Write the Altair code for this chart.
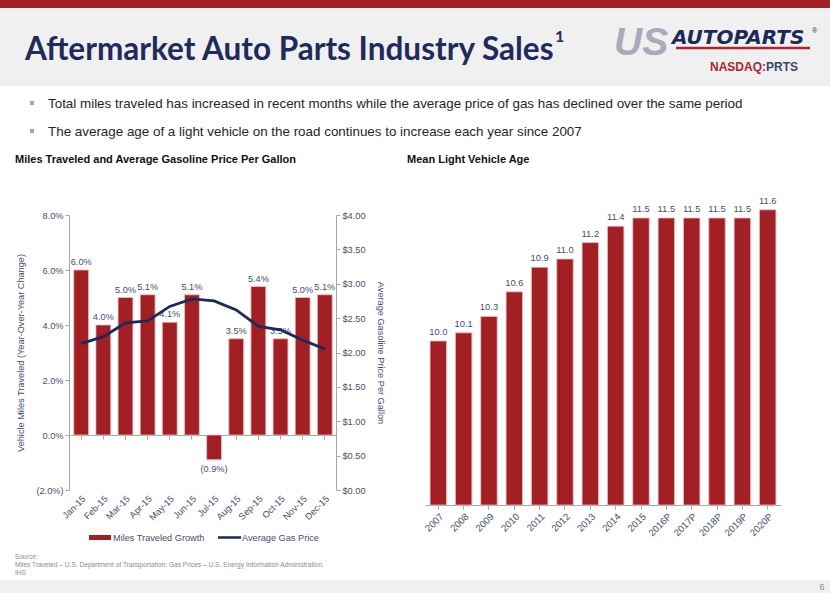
import altair as alt
import pandas as pd

# ---------------- data ----------------
months = ["Jan-15", "Feb-15", "Mar-15", "Apr-15", "May-15", "Jun-15",
          "Jul-15", "Aug-15", "Sep-15", "Oct-15", "Nov-15", "Dec-15"]
growth = [6.0, 4.0, 5.0, 5.1, 4.1, 5.1, -0.9, 3.5, 5.4, 3.5, 5.0, 5.1]
gas_price = [2.13, 2.23, 2.43, 2.46, 2.67, 2.78, 2.75, 2.62, 2.38, 2.33, 2.18, 2.05]

years = ["2007", "2008", "2009", "2010", "2011", "2012", "2013", "2014",
         "2015", "2016P", "2017P", "2018P", "2019P", "2020P"]
vehicle_age = [10.0, 10.1, 10.3, 10.6, 10.9, 11.0, 11.2, 11.4,
               11.5, 11.5, 11.5, 11.5, 11.5, 11.6]

growth_ticks = [-2, 0, 2, 4, 6, 8]
gas_ticks = [0, 0.5, 1, 1.5, 2, 2.5, 3, 3.5, 4]
age_ticks = [8, 9, 10, 11, 12]

title_text = "Aftermarket Auto Parts Industry Sales"
bullets = [
    "Total miles traveled has increased in recent months while the average price of gas has declined over the same period",
    "The average age of a light vehicle on the road continues to increase each year since 2007",
]
left_title = "Miles Traveled and Average Gasoline Price Per Gallon"
right_title = "Mean Light Vehicle Age"
source_lines = [
    "Source:",
    "Miles Traveled \u2013 U.S. Department of Transportation; Gas Prices \u2013 U.S. Energy Information Administration.",
    "IHS",
]

# ---------------- style ----------------
W, H = 830, 593
RED = "#A31F24"
NAVY = "#1B2A57"
SLATE = "#3F5070"
AXC = "#A6A6A6"
FONT = "Liberation Sans"
FS = 9.2

left_df = pd.DataFrame({"month": months, "growth": growth, "gas": gas_price})
left_df["label"] = [f"({-g:.1f}%)" if g < 0 else f"{g:.1f}%" for g in growth]
right_df = pd.DataFrame({"year": years, "age": vehicle_age})
right_df["label"] = [f"{a:.1f}" for a in vehicle_age]

dummy = pd.DataFrame({"a": [0]})


def rect(x, x2, y, y2, color):
    return alt.Chart(dummy).mark_rect(color=color).encode(
        x=alt.value(x), x2=alt.value(x2), y=alt.value(y), y2=alt.value(y2))


def txt(text, x, y, size, color, weight="normal", font=FONT, align="left",
        style_italic=False, baseline="alphabetic"):
    kw = dict(fontSize=size, color=color, fontWeight=weight, font=font,
              align=align, baseline=baseline)
    if style_italic:
        kw["fontStyle"] = "italic"
    return alt.Chart(dummy).mark_text(**kw).encode(
        x=alt.value(x), y=alt.value(y), text=alt.value(text))


axis_common = dict(domainColor=AXC, tickColor=AXC, labelColor=SLATE,
                   labelFont=FONT, titleFont=FONT,
                   titleFontSize=FS, titleFontWeight="normal",
                   titleColor=SLATE, grid=False, tickSize=4, labelOverlap=False)

# ---------------- left chart ----------------
x_left = alt.X("month:N", sort=months,
               scale=alt.Scale(domain=months, range=[70, 336],
                               paddingInner=0.33, paddingOuter=0.17),
               axis=alt.Axis(orient="bottom", offset=-(H - 435), title=None,
                             labelAngle=-45, labelPadding=55, labelFontSize=FS,
                             **axis_common))
g_scale = alt.Scale(domain=[-2, 8], range=[490, 215], nice=False, zero=False)

bars_l = alt.Chart().mark_bar(color=RED, stroke="#EBC2C2", strokeWidth=0.8).encode(
    x=x_left,
    y=alt.Y("growth:Q", scale=g_scale,
            axis=alt.Axis(orient="left", offset=-69, values=growth_ticks,
                          labelExpr="datum.value < 0 ? '(' + format(-datum.value, '.1f') + '%)' : format(datum.value, '.1f') + '%'",
                          title="Vehicle Miles Traveled (Year-Over-Year Change)",
                          titlePadding=10, labelFontSize=FS, **axis_common)),
)
lab_pos = alt.Chart().mark_text(baseline="alphabetic", dy=-5, color=SLATE,
                                font=FONT, fontSize=FS).encode(
    x=alt.X("month:N", sort=months),
    y=alt.Y("growth:Q", scale=g_scale, axis=None),
    text="label:N",
).transform_filter("datum.growth >= 0")
lab_neg = alt.Chart().mark_text(baseline="top", dy=5, color=SLATE,
                                font=FONT, fontSize=FS).encode(
    x=alt.X("month:N", sort=months),
    y=alt.Y("growth:Q", scale=g_scale, axis=None),
    text="label:N",
).transform_filter("datum.growth < 0")
line_l = alt.Chart().mark_line(color=NAVY, strokeWidth=2.8).encode(
    x=alt.X("month:N", sort=months),
    y=alt.Y("gas:Q",
            scale=alt.Scale(domain=[0, 4], range=[490, 215], nice=False),
            axis=alt.Axis(orient="right", offset=-(W - 336), values=gas_ticks,
                          format="$.2f", title="Average Gasoline Price Per Gallon",
                          titlePadding=11, labelFontSize=FS, **axis_common)),
)
left = alt.layer(bars_l, lab_pos, lab_neg, line_l, data=left_df).resolve_scale(y="independent")

# ---------------- right chart ----------------
x_right = alt.X("year:N", sort=years,
                scale=alt.Scale(domain=years, range=[425, 781],
                                paddingInner=0.35, paddingOuter=0.2),
                axis=alt.Axis(orient="bottom", offset=-(H - 505), title=None,
                              labelAngle=-45, labelPadding=2, labelFontSize=9.6,
                              **axis_common))
a_scale = alt.Scale(domain=[8, 12], range=[505, 177], nice=False, zero=False)
bars_r = alt.Chart().mark_bar(color=RED, stroke="#EBC2C2", strokeWidth=0.8).encode(
    x=x_right,
    y=alt.Y("age:Q", scale=a_scale,
            axis=alt.Axis(orient="left", offset=-424, values=age_ticks,
                          format="d", title=None, labelFontSize=9.6, **axis_common)),
    y2=alt.datum(8),
)
lab_r = alt.Chart().mark_text(baseline="alphabetic", dy=-6, color=SLATE,
                              font=FONT, fontSize=9.4).encode(
    x=alt.X("year:N", sort=years),
    y=alt.Y("age:Q", scale=a_scale, axis=None),
    text="label:N",
)
right = alt.layer(bars_r, lab_r, data=right_df)

# ---------------- decorations / text ----------------
deco = [
    rect(0, W, 0, 8, RED),
    rect(0, W, 8, 86, "#F0F0F0"),
    rect(0, W, 580, H, "#F0F0F0"),
    txt(title_text, 25, 60, 31.5, "#1F2B5C", weight="bold", font="Lato"),
    txt("1", 555, 42, 16, "#1F2B5C", weight="bold", font="Lato"),
    # logo
    txt("US", 614, 55, 39, "#A9ABBB", weight="bold", style_italic=True),
    txt("AUTOPARTS", 672, 44, 20, NAVY, weight="bold", font="DejaVu Sans", style_italic=True),
    alt.Chart(dummy).mark_rule(color="#B0232F", strokeWidth=2.5).encode(
        x=alt.value(676), x2=alt.value(810), y=alt.value(48)),
    txt("\u00ae", 812, 33, 7, NAVY),
    txt("NASDAQ:", 710, 71, 12, "#B0232F", weight="bold"),
    txt("PRTS", 766, 71, 12, "#3B4666", weight="bold"),
    # bullets
    rect(30, 34, 101, 105, "#A6A6A6"),
    rect(30, 34, 129, 133, "#A6A6A6"),
    txt(bullets[0], 48, 108, 13.4, "#262626"),
    txt(bullets[1], 48, 136, 13.4, "#262626"),
    # chart titles
    txt(left_title, 15, 163, 11, "#111111", weight="bold"),
    txt(right_title, 407, 163, 11, "#111111", weight="bold"),
    # legend
    rect(89, 111, 535, 540, RED),
    txt("Miles Traveled Growth", 113, 541, FS, SLATE),
    alt.Chart(dummy).mark_rule(color=NAVY, strokeWidth=2.5).encode(
        x=alt.value(218), x2=alt.value(241), y=alt.value(537.5)),
    txt("Average Gas Price", 242, 541, FS, SLATE),
    # source
    txt(source_lines[0], 15, 559, 6.6, "#8C8C8C"),
    txt(source_lines[1], 15, 567, 6.6, "#8C8C8C"),
    txt(source_lines[2], 15, 575, 6.6, "#8C8C8C"),
    txt("6", 822, 590, 9, "#8C8C8C", align="center"),
]

chart = alt.layer(*deco[:3], left, right, *deco[3:]).resolve_scale(
    x="independent", y="independent"
).properties(
    width=W, height=H, padding=0, background="white",
    autosize=alt.AutoSizeParams(type="none"),
).configure_view(stroke=None)

chart.save("out.html", embed_options={"renderer": "svg", "actions": False})
